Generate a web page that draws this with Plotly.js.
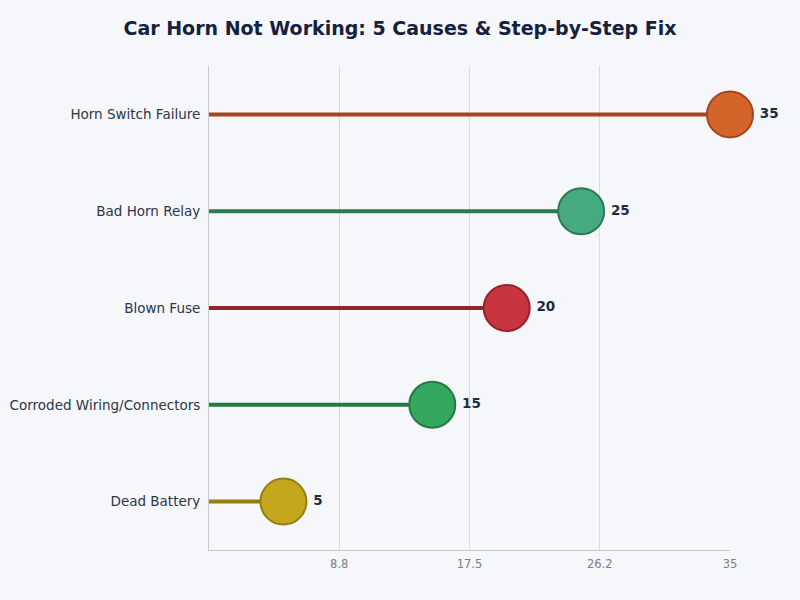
<!DOCTYPE html>
<html><head><meta charset="utf-8">
<script src="https://cdn.plot.ly/plotly-3.0.1.min.js"></script>
<style>html,body{margin:0;padding:0;background:#F5F7FB;}</style>
</head><body>
<div id="chart" style="width:800px;height:600px;"></div>
<script>
const categories = ["Dead Battery", "Corroded Wiring/Connectors", "Blown Fuse", "Bad Horn Relay", "Horn Switch Failure"];
const values = [5, 15, 20, 25, 35];
const fillColors = ["#C4A71C", "#34A85F", "#C6353D", "#45AA80", "#D3652B"];
const stemColors = ["#957D10", "#237A45", "#98222A", "#2A7A55", "#A4451E"];
const tickVals = [8.75, 17.5, 26.25, 35];
const tickText = ["8.8", "17.5", "26.2", "35"];

const traces = [];
categories.forEach((c, i) => {
  traces.push({
    type: "scatter", mode: "lines",
    x: [0, values[i]], y: [c, c],
    line: {color: stemColors[i], width: 4},
    hoverinfo: "skip", showlegend: false
  });
});
traces.push({
  type: "scatter", mode: "markers+text",
  x: values, y: categories,
  text: values.map(v => "<b>" + v + "</b>"),
  textposition: "middle right",
  textfont: {family: "DejaVu Sans", size: 13.5, color: "#1F2A44"},
  marker: {size: 46, color: fillColors, line: {color: stemColors, width: 2}},
  showlegend: false, cliponaxis: false
});

const layout = {
  width: 800, height: 600,
  paper_bgcolor: "#F5F7FB", plot_bgcolor: "#F5F7FB",
  margin: {l: 209, r: 70, t: 66, b: 50},
  title: {text: "<b>Car Horn Not Working: 5 Causes &amp; Step-by-Step Fix</b>", x: 0.5, xanchor: "center", y: 0.953, yanchor: "middle",
          font: {family: "DejaVu Sans", size: 19, color: "#16213E"}},
  xaxis: {range: [0, 35], tickvals: tickVals, ticktext: tickText, showgrid: true, gridcolor: "#D9DCE2", gridwidth: 1,
          zeroline: false, showline: true, linecolor: "#C5C9D0", linewidth: 1, ticks: "", ticklabelstandoff: 3,
          tickfont: {family: "DejaVu Sans", size: 11.5, color: "#7A7F8A"}},
  yaxis: {categoryorder: "array", categoryarray: categories, range: [-0.5, 4.5], showgrid: false, zeroline: false,
          showline: true, linecolor: "#C5C9D0", linewidth: 1, ticks: "", ticklabelstandoff: 5,
          tickfont: {family: "DejaVu Sans", size: 13.5, color: "#2E3547"}},
  font: {family: "DejaVu Sans"}
};
Plotly.newPlot("chart", traces, layout, {displayModeBar: false, responsive: false});
</script>
</body></html>
